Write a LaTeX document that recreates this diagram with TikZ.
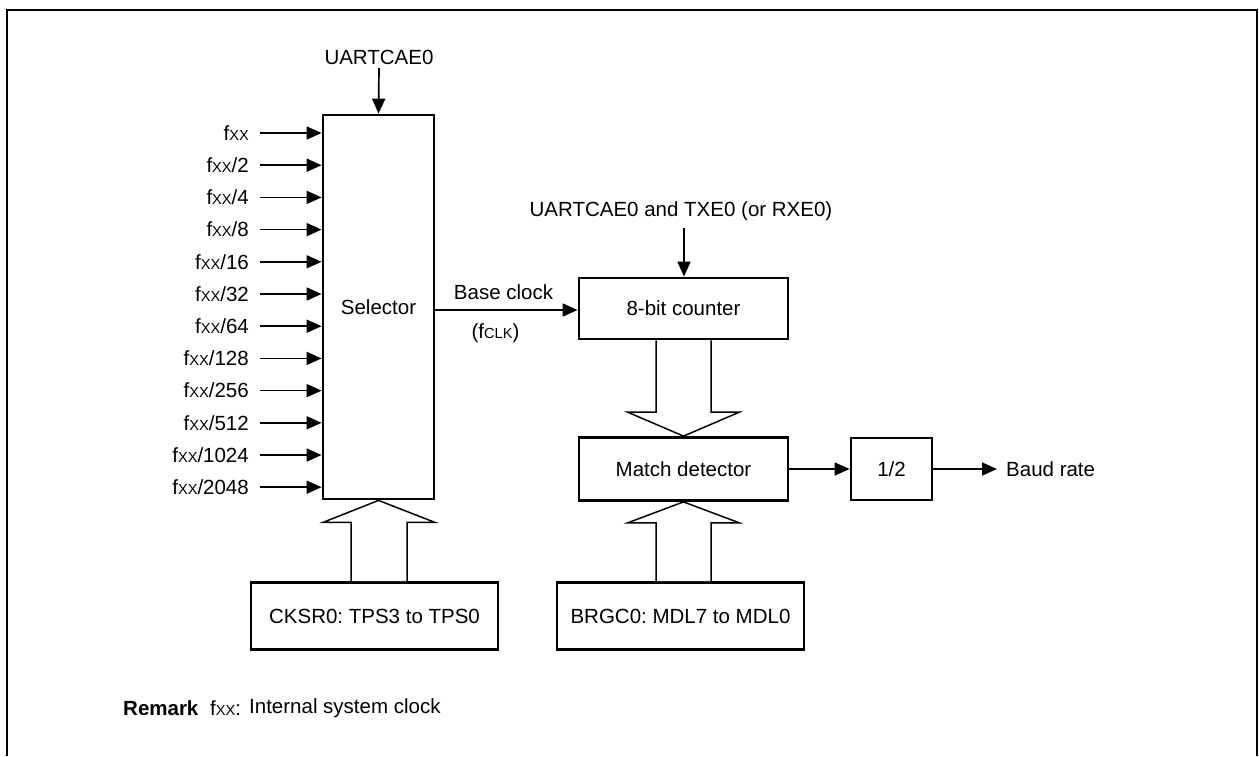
\documentclass[tikz,border=0pt]{standalone}
\usepackage{fontspec}
\setmainfont{Liberation Sans}
\usetikzlibrary{arrows.meta,calc}
\newcommand{\sub}[1]{{\fontsize{14.6}{15}\selectfont #1}}
\begin{document}
\frenchspacing
\begin{tikzpicture}[x=1pt,y=-1pt,
  every node/.style={font=\fontsize{20.5}{24}\selectfont},
  blk/.style={draw,line width=2.8pt,inner sep=0pt,align=center},
  sig/.style={line width=1.7pt,-{Triangle[length=15pt,width=13pt]}},
  wide/.style={line width=1.5pt,fill=white,line join=miter},
  lbl/.style={inner sep=0pt}]
\useasboundingbox (0,0) rectangle (1259,756);
\draw[line width=2.6pt] (7,756) -- (7,10) -- (1257,10) -- (1257,756);

% blocks
\node[blk,minimum width=111pt,minimum height=384pt] (sel) at (378.5,307) {Selector};
\node[blk,minimum width=209pt,minimum height=61pt] (cnt) at (683.5,308.5) {8-bit counter};
\node[blk,minimum width=209pt,minimum height=63pt] (mat) at (683.5,469) {Match detector};
\node[blk,minimum width=81pt,minimum height=62pt] (half) at (891.5,469) {1/2};
\node[blk,minimum width=247pt,minimum height=67pt] (ck) at (374.5,616) {CKSR0: TPS3 to TPS0};
\node[blk,minimum width=247pt,minimum height=67pt] (br) at (680.5,616) {BRGC0: MDL7 to MDL0};

% top labels
\node[lbl] (uc) at (379,57) {UARTCAE0};
\coordinate (ucs) at (379,68);
\draw[sig] (ucs) -- (sel.north);
\node[lbl] (ut) at (681,211) {UARTCAE0 and TXE0 (or RXE0)};
\coordinate (uts) at (684,228);
\draw[sig] (uts) -- (cnt.north -| uts);

% inputs
\foreach \t [count=\i from 0] in {,/2,/4,/8,/16,/32,/64,/128,/256,/512,/1024,/2048}{
  \node[lbl,anchor=east] (in\i) at (249,133+\i*32.2) {f\sub{XX}\t};
  \coordinate (is\i) at (260,133+\i*32.2);
  \draw[sig] (is\i) -- (is\i -| sel.west);
}

% base clock
\coordinate (bc) at (sel.east |- 0,310);
\draw[sig] (bc) -- (bc -| cnt.west);
\node[lbl] (bclbl) at (503.5,292) {Base clock};
\node[lbl] (fclk) at (495.5,333) {(f\sub{CLK})};

% match -> 1/2 -> baud
\draw[sig] (mat.east) -- (half.west);
\coordinate (bd) at (997,469);
\draw[sig] (half.east) -- (bd);
\node[lbl,anchor=west] (baud) at (1006,469) {Baud rate};

% wide arrows
\draw[wide] (ck.north -| 351,0) -- ($(sel.south)+(-27.5,22)$) -- ($(sel.south)+(-55.5,22)$) -- (sel.south)
  -- ($(sel.south)+(56.5,22)$) -- ($(sel.south)+(28.5,22)$) -- (ck.north -| 407,0);
\draw[wide] ($(cnt.south)+(-27.5,0)$) -- ($(mat.north)+(-27.5,-24)$) -- ($(mat.north)+(-56,-24)$) -- (mat.north)
  -- ($(mat.north)+(56,-24)$) -- ($(mat.north)+(27.5,-24)$) -- ($(cnt.south)+(27.5,0)$);
\draw[wide] (br.north -| 656,0) -- ($(mat.south)+(-27.5,21)$) -- ($(mat.south)+(-56,21)$) -- (mat.south)
  -- ($(mat.south)+(56,21)$) -- ($(mat.south)+(27.5,21)$) -- (br.north -| 711,0);

% remark
\node[lbl,anchor=west] (rem) at (123,708) {\bfseries Remark};
\node[lbl,anchor=west] (remf) at (210,708) {f\sub{XX}:};
\node[lbl,anchor=west] (remt) at (249,708) {Internal system clock};
\end{tikzpicture}
\end{document}
